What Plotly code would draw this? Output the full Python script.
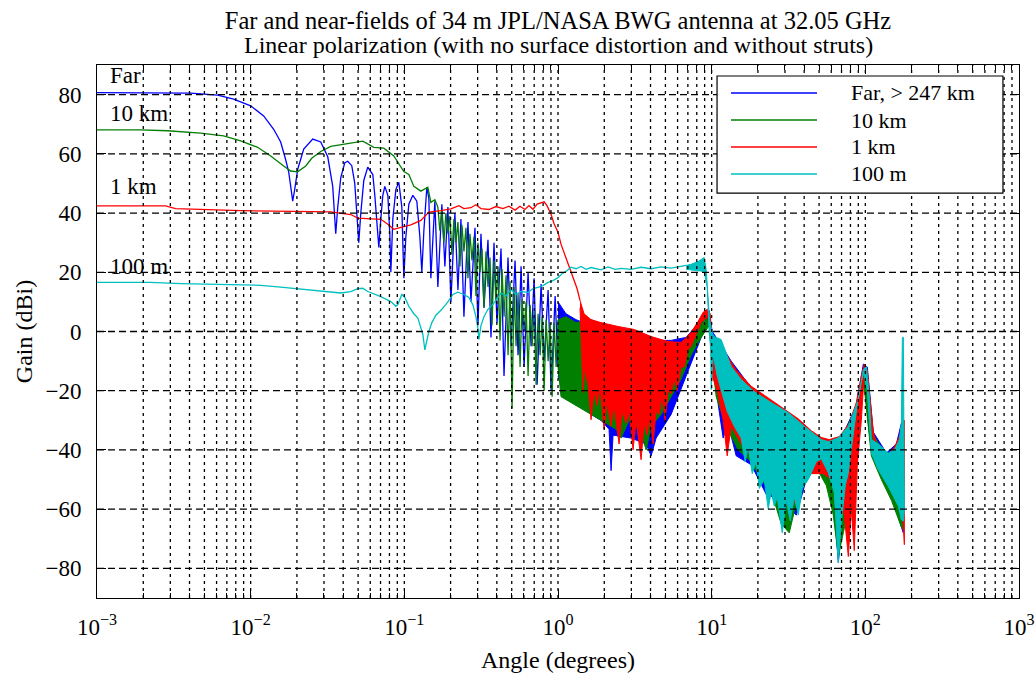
import math
import plotly.graph_objects as go

# ---------------- data (angle in degrees, gain in dBi) ----------------
# Far field (> 247 km) : smooth main beam + lobes, then dense lobes to 1 deg
far_ang = [0.001, 0.00223, 0.00406, 0.0061, 0.00775, 0.01, 0.01215, 0.01412, 0.01568, 0.0169,
           0.01769, 0.01822, 0.01877, 0.01935, 0.02024, 0.02215, 0.02535, 0.02858, 0.03174, 0.0342,
           0.03578, 0.03687, 0.03859, 0.04096, 0.04284, 0.0455, 0.04758, 0.04904, 0.05053, 0.05208,
           0.05448, 0.05782, 0.06234, 0.06425, 0.0662, 0.06822, 0.0703, 0.07243, 0.07464, 0.0781,
           0.08043, 0.08169, 0.08415, 0.0881, 0.09209, 0.0963, 0.09925, 0.1023, 0.107, 0.1136,
           0.1206, 0.1262, 0.13, 0.134, 0.1401, 0.1444, 0.1488,
           0.158, 0.1653, 0.1755, 0.1836, 0.1921, 0.2009, 0.2133, 0.2232, 0.2335, 0.2443,
           0.2594, 0.2713, 0.2882, 0.3014, 0.3153, 0.3298, 0.3502, 0.3664, 0.3833, 0.4009,
           0.4258, 0.4454, 0.4729, 0.4947, 0.5254, 0.5496, 0.5749, 0.6014, 0.6386, 0.668,
           0.6988, 0.731, 0.7762, 0.812, 0.8622, 0.9019, 0.9577, 1.0]
far_gain = [80.7, 80.6, 80.5, 79.8, 78.5, 76.2, 72.8, 68.3, 64.0, 58.0,
            53.8, 49.0, 44.0, 48.0, 54.8, 61.6, 65.0, 64.0, 59.0, 49.0,
            33.0, 42.0, 52.0, 57.0, 57.5, 56.0, 50.0, 40.0, 30.0, 40.0,
            51.0, 55.5, 53.0, 46.0, 37.0, 28.4, 38.0, 46.0, 49.0, 46.0,
            33.0, 20.0, 38.0, 48.0, 50.4, 42.0, 18.0, 32.0, 43.0, 46.0,
            44.0, 32.0, 20.0, 34.0, 48.7, 45.0, 18.0,
            44.0, 15.0, 43.0, 22.0, 42.0, 10.0, 40.0, 14.0, 38.0, 5.0,
            37.0, 10.0, 35.0, 2.0, 33.0, 8.0, 31.0, -2.0, 30.0, 3.0,
            28.0, -15.0, 25.0, -5.0, 24.0, -8.0, 22.0, -12.0, 20.0, -5.0,
            18.0, -18.0, 16.0, -10.0, 14.0, -20.0, 12.0, -12.0]
# Far field dense region (1-180 deg): upper and lower envelope of the lobes
far_hi_ang = [1.0, 1.127, 1.31, 1.641, 2.215, 2.99, 4.036, 5.448, 6.822, 7.925, 8.937, 9.632,
              10.08, 10.7, 13.4, 18.09, 24.42, 32.96, 44.49, 55.71, 69.76, 87.33, 97.05, 103.0,
              112.7, 137.1, 159.2, 171.6, 176.8]
far_hi = [10, 6, 4, 2, 0, -2, -3, -3, -2, 2, 5, 7,
          0, -2, -10, -19, -24, -28, -34, -37, -36, -25, -11, -12,
          -34, -41, -38, -31, -31]
far_lo_ang = [1.0, 1.127, 1.31, 1.641, 1.906, 2.149, 2.215, 2.282, 2.99, 3.744, 4.036, 4.349,
              5.448, 6.822, 8.544, 9.632, 10.08, 10.7, 11.88, 12.62, 14.44, 18.09, 22.65, 28.37,
              35.52, 41.28, 47.96, 55.71, 62.8, 66.69, 70.81, 78.64, 87.33, 97.05, 109.4, 127.1,
              147.7, 171.6, 176.8]
far_lo = [-15, -22, -20, -28, -30, -33, -47, -35, -36, -38, -42, -36,
          -28, -15, -2, 3, -8, -20, -36, -30, -42, -45, -55, -57,
          -62, -50, -46, -50, -60, -78, -65, -60, -40, -15, -40, -48,
          -55, -66, -68]

# 10 km
km10_ang = [0.001, 0.00192, 0.00288, 0.004723, 0.00667, 0.00861, 0.0111, 0.0135, 0.0164, 0.0182,
            0.0202, 0.02282, 0.02496, 0.02858, 0.0332, 0.04036, 0.0498, 0.05365, 0.06328, 0.07352,
            0.0854, 0.0949, 0.09925, 0.107, 0.1153, 0.1281, 0.1422, 0.1488, 0.158,
            0.1653, 0.1703, 0.1755, 0.1809, 0.1864, 0.1921, 0.198, 0.204, 0.2102, 0.2166,
            0.2232, 0.23, 0.237, 0.2443, 0.2517, 0.2594, 0.2673, 0.2755, 0.2839, 0.2925,
            0.3014, 0.3106, 0.3201, 0.3299, 0.3399, 0.3503, 0.361, 0.372, 0.3833, 0.395,
            0.4071, 0.4195, 0.4323, 0.4455, 0.4591, 0.4731, 0.4875, 0.5024, 0.5177, 0.5335,
            0.5497, 0.5665, 0.5838, 0.6016, 0.6199, 0.6388, 0.6583, 0.6784, 0.699, 0.7204,
            0.7423, 0.765, 0.7883, 0.8123, 0.8371, 0.8627, 0.889, 0.9161, 0.944, 0.9728, 1.0]
km10_gain = [68.1, 68.1, 67.8, 67.0, 66.1, 64.4, 62.2, 59.3, 55.9, 54.2,
             53.9, 55.9, 58.5, 60.8, 62.5, 63.3, 64.2, 64.3, 62.2, 61.9,
             59.3, 55.5, 54.0, 53.0, 49.0, 47.4, 48.7, 43.6, 44.5,
             42, 34, 41, 30, 40, 33, 39, 26, 38, 30,
             37, 22, 36, 27, 35, 18, 33, 24, 32, 12,
             30, 20, 28, 8, 27, 15, 25, 2, 24, 10,
             22, -3, 21, 5, 19, -8, 17, -26, 15, -5,
             13, -12, 11, 0, 10, -15, 9, -5, 7, -18,
             6, -8, 5, -20, 4, -10, 3, -22, 3, -12, 4]
km10_hi_ang = [1.0, 1.127, 1.31, 1.641, 2.055, 2.573, 3.473, 4.689, 6.328, 7.925, 9.208,
               10.08, 10.7, 13.4, 18.09, 24.42, 32.96, 44.49, 55.71, 69.76, 87.33, 97.05,
               103.0, 112.7, 137.1, 159.2, 176.8]
km10_hi = [4, 5, 3, 4, 2, -1, -3, -5, -4, 0, 5,
           -2, -4, -11, -20, -25, -29, -35, -38, -36, -26, -13,
           -14, -35, -42, -39, -32]
km10_lo_ang = [1.0, 1.046, 1.215, 1.412, 1.641, 1.906, 2.387, 2.573, 2.901, 3.473, 3.744, 4.036,
               4.689, 5.448, 6.328, 7.352, 8.544, 9.632, 10.08, 10.7, 12.43, 14.88, 18.09, 21.01,
               24.42, 28.37, 31.98, 35.52, 41.28, 47.96, 55.71, 61.87, 66.69, 71.88, 81.04, 88.66,
               97.05, 109.4, 127.1, 147.7, 171.6, 176.8]
km10_lo = [-12, -22, -24, -26, -28, -30, -33, -36, -30, -34, -40, -32,
           -28, -22, -16, -8, -2, 2, -10, -22, -32, -40, -44, -50,
           -54, -65, -68, -58, -50, -46, -52, -62, -76, -68, -55, -38,
           -16, -42, -50, -57, -66, -67]

# 1 km
km1_ang = [0.001, 0.002794, 0.003246, 0.00861, 0.0332, 0.0448, 0.0498, 0.0703, 0.0781, 0.0854,
           0.0949, 0.1103, 0.1281, 0.1444, 0.1729, 0.2009, 0.2265, 0.2443, 0.2713, 0.2922,
           0.3153, 0.3552, 0.3946, 0.4383, 0.4795, 0.5254, 0.5656, 0.6095, 0.6472, 0.6874,
           0.731, 0.7762, 0.812, 0.848, 0.9019, 0.9417, 1.0, 1.046, 1.094, 1.145,
           1.215, 1.271, 1.33, 1.391]
km1_gain = [42.4, 42.4, 41.5, 40.8, 40.4, 39.5, 38.3, 37.9, 36.2, 34.5,
            35.2, 36.0, 37.5, 40.3, 40.8, 41.4, 42.5, 41.5, 41.8, 42.8,
            41.5, 41.2, 42.2, 41.5, 42.3, 41.0, 42.3, 41.2, 42.5, 41.3,
            43.0, 43.5, 43.8, 42.5, 39.5, 36.5, 33.5, 29.5, 26.7, 24.5,
            20.5, 17.5, 14.5, 10.5]
km1_hi_ang = [1.391, 1.477, 1.641, 1.906, 2.46, 3.127, 4.036, 5.209, 6.328, 7.352, 8.167, 8.804,
              9.347, 9.777, 10.08, 10.7, 11.53, 14.44, 18.09, 21.98, 28.37, 36.61, 44.49, 51.69,
              58.27, 67.7, 78.64, 87.33, 94.18, 98.51, 103.0, 107.8, 112.7, 121.5, 141.2, 154.5,
              166.6, 174.2, 179.5]
km1_hi = [10.5, 6, 4, 3, 1.7, 0.7, -1.7, -3.4, -3.7, -0.3, 3.5, 6.5,
          7.5, 6, -3, -4, -5, -13, -18.5, -21.5, -25.5, -29.5, -33.5, -35.8,
          -36.5, -35.5, -31, -24, -15, -11, -13, -25, -34, -40, -41.5, -39,
          -35.5, -30, -30]
km1_lo_ang = [1.391, 1.455, 1.499, 1.568, 1.641, 1.717, 1.796, 1.879, 1.995, 2.087, 2.215, 2.317,
              2.497, 2.612, 2.773, 2.901, 3.08, 3.222, 3.473, 3.633, 3.8, 3.975, 4.158, 4.349,
              4.549, 4.758, 4.977, 5.209, 5.448, 5.699, 5.961, 6.328, 6.619, 7.028, 7.352, 7.925,
              8.544, 9.347, 9.777, 10.08,
              10.86, 11.88, 12.62, 13.4, 15.56, 18.09, 21.01, 24.42, 28.37, 32.96, 38.29, 44.49,
              53.27, 60.04, 67.7, 72.96, 77.48, 81.04, 84.75, 88.66, 94.18, 98.51, 103.0, 107.8,
              112.7, 121.5, 141.2, 154.5, 166.6, 174.2, 179.5]
km1_lo = [8, -20.6, -12, -18, -29.8, -20, -25, -19, -33, -24, -32, -25,
          -38, -27, -31, -27, -40, -30, -43.3, -31, -35, -29, -38, -27,
          -28, -22, -30, -20, -21, -16, -20, -12, -12, -6, -5, -1,
          3, 5, 2, -15,
          -20, -30, -42, -32, -38, -42, -46, -50, -55, -60, -52, -48,
          -48, -50, -55, -62, -76, -60, -74, -45, -30, -14, -16, -30,
          -36, -41, -42.5, -40.5, -37, -60, -72]

# 100 m
m100_ang = [0.001, 0.00223, 0.0035, 0.00741, 0.01162, 0.01568, 0.02117, 0.02858, 0.03859, 0.0448,
            0.0498, 0.05365, 0.05782, 0.0703, 0.08169, 0.0881, 0.09072, 0.0963, 0.1008, 0.107,
            0.1153, 0.1225, 0.1281, 0.132, 0.136, 0.1401, 0.1444, 0.1511, 0.1604, 0.1678,
            0.1755, 0.192, 0.207, 0.2232, 0.2443, 0.2632, 0.2794, 0.2922, 0.3014, 0.3057,
            0.3153, 0.3298, 0.3502, 0.3772, 0.4065, 0.4258, 0.4584, 0.4947, 0.5326, 0.5749,
            0.6386, 0.6874, 0.7408, 0.7983, 0.8622, 0.9278, 1.0, 1.062, 1.127, 1.215,
            1.31, 1.412, 1.522, 1.641, 1.906, 2.117, 2.351, 2.573, 2.99, 3.473,
            4.036, 4.689, 5.448, 6.328, 6.822]
m100_gain = [16.6, 16.6, 16.2, 15.9, 15.6, 15.0, 14.4, 13.6, 13.0, 13.5,
             14.5, 14.6, 13.5, 11.8, 10.1, 8.5, 9.1, 12.5, 11.5, 8.5,
             6.0, 4.5, 1.5, -1.0, -6.2, -3.0, 0.0, 3.0, 5.5, 6.5,
             7.5, 10.0, 12.5, 13.3, 12.5, 11.5, 9.0, 5.0, 1.0, -2.7,
             2.0, 5.0, 7.5, 9.2, 11.5, 13.0, 12.0, 14.2, 12.5, 13.5,
             13.2, 14.5, 14.9, 15.5, 16.6, 17.2, 18.2, 19.5, 20.3, 21.7,
             21.2, 22.0, 21.0, 21.6, 20.8, 21.8, 21.0, 21.3, 21.0, 21.7,
             21.2, 21.8, 21.4, 22.0, 22.3]
m100_hi_ang = [6.822, 7.352, 8.167, 8.937, 9.208, 9.488, 9.69, 10.08, 10.38, 11.53, 12.43, 13.4,
               15.56, 18.92, 24.42, 31.51, 40.06, 51.69, 57.41, 66.69, 77.48, 84.75, 90.0, 94.18,
               97.05, 101.5, 106.2, 109.4, 121.5, 141.2, 154.5, 166.6, 171.6, 174.2, 176.8, 179.5]
m100_hi = [22.3, 22.7, 23.6, 25.0, 21.0, 8.5, 4.0, -0.5, -1.7, -2.7, -7.0, -11.8,
           -16.2, -20.3, -24.0, -27.4, -32.0, -36.5, -37.2, -35.9, -32.0, -27.0, -23.0, -17.0,
           -12.9, -11.8, -22.0, -36.5, -38.0, -41.0, -40.0, -36.5, -31.0, -2.0, -2.0, -60.0]
m100_lo_ang = [6.822, 7.352, 8.167, 8.937, 9.347, 9.632, 9.85, 9.93, 10.23, 10.86, 11.53, 12.62,
               14.02, 15.56, 16.52, 17.29, 18.36, 19.5, 20.4, 21.98, 23.34, 24.42, 25.54, 26.71,
               28.8, 30.58, 32.47, 34.48, 36.61, 38.87, 42.53,
               47.96, 51.69, 57.41, 62.8, 66.69, 69.76, 74.07, 77.48, 84.75, 91.36, 97.05, 103.0,
               109.4, 121.5, 141.2, 164.1, 171.6, 176.8]
m100_lo = [21.0, 20.8, 20.5, 20.3, 15.0, 0.0, -6.0, -19.6, -8.0, -15.0, -19.6, -27.0,
           -32.0, -36.0, -44.0, -39.0, -48.0, -44.0, -53.0, -50.0, -60.0, -54.0, -59.0, -56.0,
           -68.0, -57.0, -64.0, -56.0, -62.0, -53.0, -50.0,
           -44.0, -43.0, -47.7, -54.5, -78.0, -64.6, -52.0, -47.7, -32.0, -20.0, -14.0, -20.0,
           -41.0, -46.7, -52.4, -59.0, -63.6, -64.0]

label_text = ["Far", "10 km", "1 km", "100 m"]
label_ang = [0.00118, 0.00118, 0.00118, 0.00118]
label_gain = [86.3, 73.7, 49.0, 22.0]

title_lines = ["Far and near-fields of 34 m JPL/NASA BWG antenna at 32.05 GHz",
               "Linear polarization (with no surface distortion and without struts)"]

x_range = [0.001, 1000]
y_range = [-90, 90]
x_tick_vals = [0.001, 0.01, 0.1, 1, 10, 100, 1000]
x_tick_text = ["10<sup>\u22123</sup>", "10<sup>\u22122</sup>", "10<sup>\u22121</sup>",
               "10<sup>0</sup>", "10<sup>1</sup>", "10<sup>2</sup>", "10<sup>3</sup>"]
x_minor_vals = [m * d for d in [0.001, 0.01, 0.1, 1, 10, 100] for m in range(2, 10)]
y_tick_vals = [-80, -60, -40, -20, 0, 20, 40, 60, 80]

series = [
    ("Far, > 247 km", "#0000ff", far_ang, far_gain, far_hi_ang, far_hi, far_lo_ang, far_lo),
    ("10 km", "#007f00", km10_ang, km10_gain, km10_hi_ang, km10_hi, km10_lo_ang, km10_lo),
    ("1 km", "#ff0000", km1_ang, km1_gain, km1_hi_ang, km1_hi, km1_lo_ang, km1_lo),
    ("100 m", "#00bfbf", m100_ang, m100_gain, m100_hi_ang, m100_hi, m100_lo_ang, m100_lo),
]

# legend box layout (paper fractions of the plot area)
leg_box = dict(x0=0.6725, x1=0.9826, y0=0.7598, y1=0.9794)
leg_line_x = (0.6876, 0.7809)
leg_text_x = 0.8156
leg_rows_y = [0.9475, 0.8968, 0.8462, 0.7955]

font_family = "Liberation Serif"
fig = go.Figure()
for i, (name, col, xa, ya, hx, hy, lx, ly) in enumerate(series):
    fig.add_trace(go.Scatter(x=xa, y=ya, mode="lines", name=name, showlegend=False,
                             line=dict(color=col, width=1.3)))
    fig.add_trace(go.Scatter(x=hx + lx[::-1], y=hy + ly[::-1], mode="lines", fill="toself",
                             fillcolor=col, line=dict(color=col, width=1),
                             showlegend=False, hoverinfo="skip"))

# grid drawn on top of the curves (as in the reference), at the axis tick positions
gx, gy = [], []
for v in x_tick_vals[1:-1] + x_minor_vals:
    gx += [v, v, None]
    gy += [y_range[0], y_range[1], None]
fig.add_trace(go.Scatter(x=gx, y=gy, mode="lines", showlegend=False, hoverinfo="skip",
                         line=dict(color="black", width=1.3, dash="3px,4px")))
hx_, hy_ = [], []
for g in y_tick_vals:
    hx_ += [x_range[0], x_range[1], None]
    hy_ += [g, g, None]
fig.add_trace(go.Scatter(x=hx_, y=hy_, mode="lines", showlegend=False, hoverinfo="skip",
                         line=dict(color="black", width=1.3, dash="7px,4px")))

# legend (box, sample lines and labels)
fig.add_shape(type="rect", xref="paper", yref="paper", line=dict(color="black", width=1.2),
              fillcolor="white", layer="above", **leg_box)
for (name, col, *_), ry in zip(series, leg_rows_y):
    fig.add_shape(type="line", xref="paper", yref="paper", x0=leg_line_x[0], x1=leg_line_x[1],
                  y0=ry, y1=ry, line=dict(color=col, width=1.5), layer="above")
    fig.add_annotation(x=leg_text_x, y=ry, xref="paper", yref="paper", text=name,
                       showarrow=False, xanchor="left", yanchor="middle",
                       font=dict(size=22, family=font_family, color="black"))

for t, a, g in zip(label_text, label_ang, label_gain):
    fig.add_annotation(x=math.log10(a), y=g, text=t, showarrow=False, xanchor="left",
                       yanchor="middle", font=dict(size=23, color="black"))

# second title line as a paper annotation (keeps the reference line spacing)
fig.add_annotation(x=0.5, xref="paper", y=1.0375, yref="paper", text=title_lines[1],
                   showarrow=False, xanchor="center", yanchor="middle",
                   font=dict(size=24, family=font_family, color="black"))

fig.update_layout(
    width=1035, height=684,
    margin=dict(l=97, r=16, t=65, b=86),
    paper_bgcolor="white", plot_bgcolor="white",
    font=dict(family=font_family, color="black", size=20),
    title=dict(text=title_lines[0], x=0.5, xref="paper", xanchor="center",
               y=1 - 20 / 684, yref="container", yanchor="middle",
               font=dict(size=24.5, family=font_family, color="black")),
    showlegend=False,
)
fig.update_xaxes(type="log", range=[math.log10(x_range[0]), math.log10(x_range[1])],
                 tickmode="array", tickvals=x_tick_vals, ticktext=x_tick_text, automargin=False,
                 showline=True, linecolor="black", linewidth=1, mirror="ticks",
                 ticks="inside", ticklen=9, tickcolor="black", ticklabelstandoff=8,
                 showgrid=False, zeroline=False, tickfont=dict(size=23),
                 minor=dict(tickmode="array", tickvals=x_minor_vals, ticks="inside", ticklen=5,
                            tickcolor="black", showgrid=False),
                 title=dict(text="Angle (degrees)", font=dict(size=24), standoff=12))
fig.update_yaxes(range=y_range, tickmode="array", tickvals=y_tick_vals, automargin=False,
                 showline=True, linecolor="black", linewidth=1, mirror="ticks",
                 ticks="inside", ticklen=9, tickcolor="black", ticklabelstandoff=10,
                 showgrid=False, zeroline=False, tickfont=dict(size=23),
                 title=dict(text="Gain (dBi)", font=dict(size=24), standoff=6))

fig.write_html("out.html", config={"displayModeBar": False},
               post_script="document.body.style.margin='0';document.body.style.overflow='hidden';")
